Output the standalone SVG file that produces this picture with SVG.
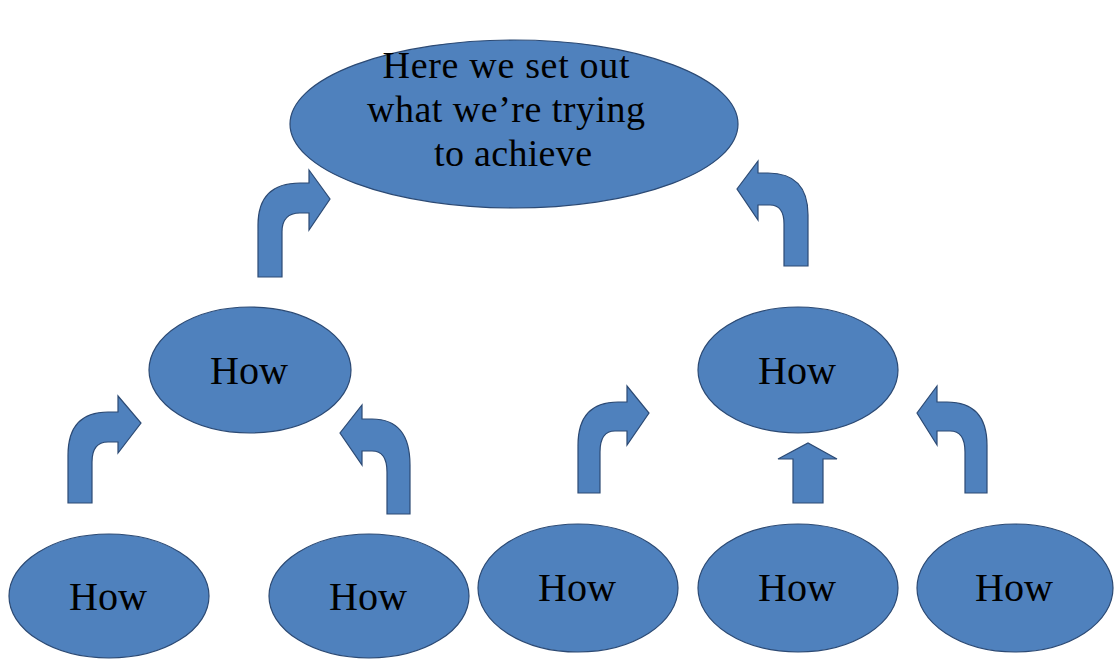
<svg xmlns="http://www.w3.org/2000/svg" width="1119" height="659" viewBox="0 0 1119 659">
  <style>
    .node { fill: #4f81bd; stroke: #2c4a74; stroke-width: 1.2; }
    .arrow { fill: #4f81bd; stroke: #2c4a74; stroke-width: 1.2; stroke-linejoin: miter; }
    .label { font-family: "Liberation Serif", "Times New Roman", serif; fill: #000; text-anchor: middle; }
    .how { font-size: 39px; }
    .goal { font-size: 38px; }
  </style>
  <rect width="1119" height="659" fill="#ffffff"/>

  <!-- goal -->
  <g id="goal">
    <ellipse class="node" cx="514" cy="124" rx="224" ry="84"/>
    <text class="label goal" x="506" y="78" textLength="247" lengthAdjust="spacing">Here we set out</text>
    <text class="label goal" x="506" y="122" textLength="278" lengthAdjust="spacing">what we’re trying</text>
    <text class="label goal" x="513" y="166" textLength="158" lengthAdjust="spacing">to achieve</text>
  </g>

  <!-- second level -->
  <g id="how-left">
    <ellipse class="node" cx="250" cy="370" rx="101" ry="63"/>
    <text class="label how" x="249" y="384" textLength="78" lengthAdjust="spacingAndGlyphs">How</text>
  </g>
  <g id="how-right">
    <ellipse class="node" cx="798" cy="370" rx="100" ry="63"/>
    <text class="label how" x="797" y="384" textLength="78" lengthAdjust="spacingAndGlyphs">How</text>
  </g>

  <!-- third level -->
  <g id="how-1">
    <ellipse class="node" cx="109" cy="596" rx="100" ry="62"/>
    <text class="label how" x="108" y="610" textLength="78" lengthAdjust="spacingAndGlyphs">How</text>
  </g>
  <g id="how-2">
    <ellipse class="node" cx="369" cy="596" rx="100" ry="62"/>
    <text class="label how" x="368" y="610" textLength="78" lengthAdjust="spacingAndGlyphs">How</text>
  </g>
  <g id="how-3">
    <ellipse class="node" cx="578" cy="588" rx="100" ry="64"/>
    <text class="label how" x="577" y="601" textLength="78" lengthAdjust="spacingAndGlyphs">How</text>
  </g>
  <g id="how-4">
    <ellipse class="node" cx="798" cy="588" rx="100" ry="64"/>
    <text class="label how" x="797" y="601" textLength="78" lengthAdjust="spacingAndGlyphs">How</text>
  </g>
  <g id="how-5">
    <ellipse class="node" cx="1015" cy="588" rx="98" ry="64"/>
    <text class="label how" x="1014" y="601" textLength="78" lengthAdjust="spacingAndGlyphs">How</text>
  </g>

  <!-- bent block arrows -->
  <g id="connectors">
    <path class="arrow" d="M258,277 L258,225 Q258,183 300,183 L309,183 L309,170 L330,199 L309,230 L309,213 L300,213 Q282,213 282,232 L282,277 Z"/>
    <path class="arrow" d="M808,266 L808,215 Q808,173 768,173 L758,173 L758,161 L737,189 L758,220 L758,205 L770,205 Q784,205 784,224 L784,266 Z"/>
    <path class="arrow" d="M68,503 L68,455 Q68,412 108,412 L118,412 L118,396 L141,423 L118,453 L118,442 L108,442 Q92,442 92,462 L92,503 Z"/>
    <path class="arrow" d="M410,514 L410,465 Q410,419 372,419 L362,419 L362,405 L340,433 L362,465 L362,451 L372,451 Q387,451 387,472 L387,514 Z"/>
    <path class="arrow" d="M578,493 L578,445 Q578,402 618,402 L627,402 L627,386 L649,413 L627,445 L627,431 L615,431 Q600,431 600,452 L600,493 Z"/>
    <path class="arrow" d="M793,503 L793,459 L778,459 L808,443 L837,459 L823,459 L823,503 Z"/>
    <path class="arrow" d="M987,493 L987,445 Q987,402 947,402 L937,402 L937,386 L917,413 L937,445 L937,431 L950,431 Q965,431 965,452 L965,493 Z"/>
  </g>
</svg>
